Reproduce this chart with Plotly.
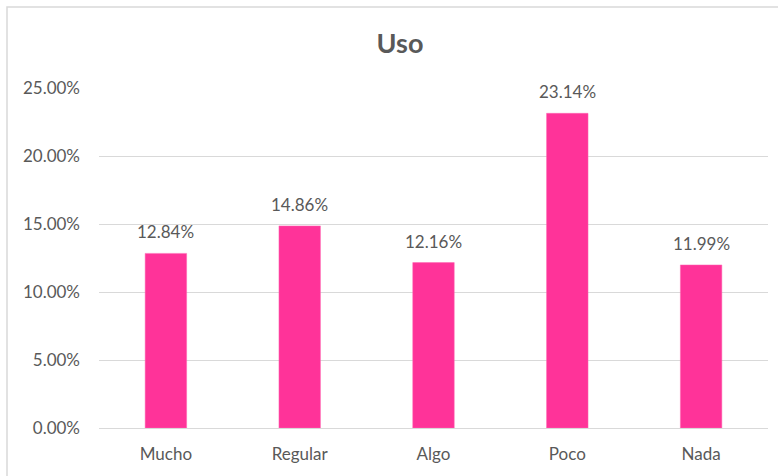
import plotly.graph_objects as go

categories = ["Mucho", "Regular", "Algo", "Poco", "Nada"]
values = [0.1284, 0.1486, 0.1216, 0.2314, 0.1199]
y_ticks = [0, 0.05, 0.10, 0.15, 0.20, 0.25]
y_tick_labels = ["0.00%", "5.00%", "10.00%", "15.00%", "20.00%", "25.00%"]

FONT = "Lato, 'Open Sans', sans-serif"
TXT = "#595959"

fig = go.Figure(
    go.Bar(
        x=categories,
        y=values,
        marker=dict(color="#FF3399", line=dict(color="#FF66B3", width=0.5)),
        hoverinfo="x+y",
    )
)

annotations = [
    dict(
        x=c,
        y=v,
        xref="x",
        yref="y",
        text=f"{v*100:.2f}%",
        showarrow=False,
        yanchor="bottom",
        yshift=9,
        font=dict(family=FONT, size=17, color=TXT),
    )
    for c, v in zip(categories, values)
]

fig.update_layout(
    width=778,
    height=476,
    margin=dict(l=99, r=10, t=88, b=48),
    paper_bgcolor="white",
    plot_bgcolor="white",
    bargap=0.69,
    showlegend=False,
    annotations=annotations,
    title=dict(
        text="<b>Uso</b>",
        x=400 / 778,
        xanchor="center",
        y=1 - 44 / 476,
        yanchor="middle",
        font=dict(family=FONT, size=27, color=TXT),
    ),
    xaxis=dict(
        showgrid=False,
        showline=False,
        ticks="",
        tickfont=dict(family=FONT, size=17, color=TXT),
        ticklabelstandoff=14,
    ),
    yaxis=dict(
        range=[0, 0.25],
        tickvals=y_ticks,
        ticktext=y_tick_labels,
        showgrid=True,
        gridcolor="#d9d9d9",
        gridwidth=1,
        zeroline=True,
        zerolinecolor="#d9d9d9",
        zerolinewidth=1,
        showline=False,
        ticks="",
        tickfont=dict(family=FONT, size=17, color=TXT),
        ticklabelstandoff=18,
    ),
    shapes=[
        dict(
            type="rect",
            xref="paper",
            yref="paper",
            x0=(7 - 99) / 669,
            x1=(790 - 99) / 669,
            y0=(428 - 490) / 340,
            y1=(428 - 7) / 340,
            line=dict(color="#d9d9d9", width=1.5),
            fillcolor="rgba(0,0,0,0)",
            layer="below",
        )
    ],
)

fig.write_html(
    "out.html",
    config={"displayModeBar": False},
    post_script="document.body.style.margin='0';document.body.style.overflow='hidden';",
)
